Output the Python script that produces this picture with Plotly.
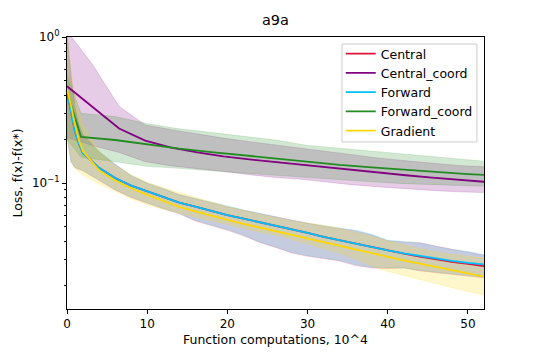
import plotly.graph_objects as go

# ---------------- data ----------------
# lower group: Central, Forward, Gradient  (x in units of 10^4 function computations)
x_low = [0, 0.5, 1, 1.5, 2, 4, 6, 8, 10, 12, 14, 16, 18, 20, 22, 24, 26, 28, 30,
         32, 34, 36, 38, 40, 42, 44, 46, 48, 50, 52]

forward_mean = [0.42, 0.30, 0.225, 0.185, 0.160, 0.127, 0.108, 0.096, 0.0875, 0.0805,
                0.0735, 0.0690, 0.0645, 0.0602, 0.0570, 0.0540, 0.0510, 0.0482, 0.0455,
                0.0428, 0.0405, 0.0385, 0.0365, 0.0346, 0.0330, 0.0316, 0.0303, 0.0293,
                0.0284, 0.0277]
forward_up = [1.05, 0.55, 0.33, 0.25, 0.215, 0.165, 0.135, 0.113, 0.100, 0.092, 0.0835,
              0.0785, 0.0735, 0.0690, 0.0655, 0.0620, 0.0585, 0.0555, 0.0530, 0.0508,
              0.0492, 0.0475, 0.0445, 0.0405, 0.0398, 0.0388, 0.0368, 0.0350, 0.0340, 0.0322]
forward_lo = [0.21, 0.14, 0.128, 0.125, 0.122, 0.105, 0.090, 0.080, 0.073, 0.067, 0.062,
              0.0555, 0.0515, 0.0480, 0.0440, 0.0395, 0.0365, 0.0335, 0.0318, 0.0308,
              0.0295, 0.0275, 0.0265, 0.0262, 0.0262, 0.0252, 0.0245, 0.0238, 0.0232, 0.0226]

central_mean = [0.42, 0.30, 0.225, 0.185, 0.160, 0.127, 0.108, 0.096, 0.0875, 0.0805,
                0.0735, 0.0690, 0.0645, 0.0602, 0.0570, 0.0540, 0.0510, 0.0482, 0.0455,
                0.0428, 0.0405, 0.0384, 0.0364, 0.0344, 0.0328, 0.0313, 0.0299, 0.0288,
                0.0279, 0.0270]
central_up = [1.05, 0.54, 0.33, 0.25, 0.213, 0.163, 0.134, 0.112, 0.0995, 0.0915, 0.0832,
              0.0780, 0.0730, 0.0688, 0.0650, 0.0618, 0.0582, 0.0553, 0.0528, 0.0505,
              0.0488, 0.0470, 0.0440, 0.0402, 0.0395, 0.0390, 0.0370, 0.0352, 0.0338, 0.0320]
central_lo = [0.21, 0.14, 0.127, 0.124, 0.121, 0.104, 0.0895, 0.0795, 0.0725, 0.0665,
              0.0615, 0.0550, 0.0510, 0.0475, 0.0435, 0.0392, 0.0362, 0.0332, 0.0315,
              0.0305, 0.0292, 0.0272, 0.0262, 0.0260, 0.0262, 0.0250, 0.0243, 0.0236,
              0.0230, 0.0224]

gradient_mean = [0.44, 0.34, 0.25, 0.195, 0.165, 0.122, 0.104, 0.092, 0.083, 0.0755,
                 0.0685, 0.0640, 0.0595, 0.0558, 0.0525, 0.0495, 0.0467, 0.0440, 0.0415,
                 0.0392, 0.0370, 0.0350, 0.0330, 0.0311, 0.0295, 0.0280, 0.0266, 0.0253,
                 0.0240, 0.0228]
gradient_up = [1.05, 0.60, 0.40, 0.30, 0.25, 0.165, 0.132, 0.114, 0.101, 0.093, 0.086,
               0.080, 0.074, 0.069, 0.065, 0.061, 0.058, 0.055, 0.053, 0.0515, 0.049,
               0.046, 0.043, 0.040, 0.038, 0.0355, 0.0340, 0.0325, 0.0315, 0.0306]
gradient_lo = [0.21, 0.15, 0.125, 0.118, 0.113, 0.098, 0.088, 0.078, 0.071, 0.066, 0.062,
               0.058, 0.055, 0.052, 0.049, 0.046, 0.044, 0.041, 0.038, 0.0355, 0.033,
               0.030, 0.027, 0.0248, 0.0232, 0.0218, 0.0203, 0.0192, 0.0181, 0.0171]

# Central_coord
x_cc = [0, 3.25, 6.5, 9.75, 13, 16.25, 19.5, 22.75, 26, 29.25, 32.5, 35.75, 39, 42.25,
        45.5, 48.75, 52]
cc_mean = [0.46, 0.33, 0.236, 0.195, 0.175, 0.162, 0.152, 0.145, 0.139, 0.133, 0.127,
           0.122, 0.117, 0.113, 0.109, 0.105, 0.102]
cc_up = [1.1, 0.64, 0.335, 0.250, 0.232, 0.216, 0.203, 0.192, 0.182, 0.172, 0.163,
         0.155, 0.148, 0.142, 0.137, 0.132, 0.129]
cc_lo = [0.205, 0.18, 0.162, 0.14, 0.131, 0.126, 0.12, 0.114, 0.109, 0.106, 0.101,
         0.097, 0.094, 0.091, 0.089, 0.087, 0.086]

# Forward_coord
x_fc = [0, 1.75, 6, 10, 14, 18, 22, 26, 30, 34, 38, 42, 46, 50, 52]
fc_mean = [0.42, 0.207, 0.197, 0.183, 0.172, 0.163, 0.155, 0.147, 0.140, 0.133, 0.128,
           0.123, 0.119, 0.115, 0.1135]
fc_up = [0.55, 0.30, 0.285, 0.255, 0.235, 0.222, 0.210, 0.197, 0.181, 0.173, 0.165,
         0.157, 0.150, 0.144, 0.141]
fc_lo = [0.2, 0.15, 0.14, 0.13, 0.126, 0.121, 0.117, 0.113, 0.109, 0.105, 0.102, 0.099,
         0.097, 0.095, 0.095]

names = ["Central", "Central_coord", "Forward", "Forward_coord", "Gradient"]
colors = {"Central": (220, 20, 60), "Central_coord": (128, 0, 128),
          "Forward": (0, 191, 255), "Forward_coord": (34, 139, 34),
          "Gradient": (255, 215, 0)}
series = {
    "Central": (x_low, central_mean, central_up, central_lo),
    "Central_coord": (x_cc, cc_mean, cc_up, cc_lo),
    "Forward": (x_low, forward_mean, forward_up, forward_lo),
    "Forward_coord": (x_fc, fc_mean, fc_up, fc_lo),
    "Gradient": (x_low, gradient_mean, gradient_up, gradient_lo),
}

x_ticks = [0, 10, 20, 30, 40, 50]
y_ticks = [0.1, 1]
y_ticktext = ["10<sup>−1</sup>", "10<sup>0</sup>"]
y_minor = [0.02, 0.03, 0.04, 0.05, 0.06, 0.07, 0.08, 0.09,
           0.2, 0.3, 0.4, 0.5, 0.6, 0.7, 0.8, 0.9]

FONT = "DejaVu Sans"

fig = go.Figure()

# bands
for n in names:
    xs, m, up, lo = series[n]
    r, g, b = colors[n]
    rgba = f"rgba({r},{g},{b},0.2)"
    fig.add_trace(go.Scatter(x=xs, y=up, mode="lines", line=dict(color=rgba, width=0.8),
                             showlegend=False, hoverinfo="skip"))
    fig.add_trace(go.Scatter(x=xs, y=lo, mode="lines", line=dict(color=rgba, width=0.8),
                             fill="tonexty", fillcolor=rgba, showlegend=False,
                             hoverinfo="skip"))

# mean lines
for n in names:
    xs, m, up, lo = series[n]
    r, g, b = colors[n]
    fig.add_trace(go.Scatter(x=xs, y=m, mode="lines", name=n,
                             line=dict(color=f"rgb({r},{g},{b})", width=1.8)))

axis_common = dict(showline=True, linecolor="black", linewidth=1, mirror=True,
                   ticks="outside", ticklen=4, tickcolor="black", showgrid=False,
                   zeroline=False, automargin=False,
                   tickfont=dict(family=FONT, size=12, color="black"))

# legend frame (matplotlib-like translucent box)
fig.add_shape(type="rect", xref="paper", yref="paper",
              x0=0.6595, x1=0.983, y0=0.614, y1=0.974,
              fillcolor="rgba(255,255,255,0.8)", line=dict(color="#cccccc", width=1),
              layer="above")

fig.update_layout(
    width=538, height=354,
    margin=dict(l=67, r=54, t=37, b=45, autoexpand=False),
    paper_bgcolor="white", plot_bgcolor="white",
    title=dict(text="a9a", x=0.512, xanchor="center", y=0.945, yanchor="middle",
               font=dict(family=FONT, size=14.5, color="black")),
    xaxis=dict(range=[0, 52], tickvals=x_ticks,
               title=dict(text="Function computations, 10^4", standoff=4,
                          font=dict(family=FONT, size=12.5, color="black")),
               **axis_common),
    yaxis=dict(type="log", range=[-1.863, 0], tickvals=y_ticks, ticktext=y_ticktext,
               minor=dict(tickvals=y_minor, ticks="outside", ticklen=2,
                          tickcolor="black"),
               title=dict(text="Loss, f(x)-f(x*)", standoff=6,
                          font=dict(family=FONT, size=12.5, color="black")),
               **axis_common),
    legend=dict(x=0.985, y=0.9926, xanchor="right", yanchor="top",
                traceorder="normal",
                bgcolor="rgba(0,0,0,0)", borderwidth=0,
                font=dict(family=FONT, size=12.5, color="black"),
                tracegroupgap=0, itemwidth=30),
    showlegend=True,
)

fig.write_html("out.html", config={"displayModeBar": False},
               post_script="document.body.style.margin='0';document.body.style.overflow='hidden';")
